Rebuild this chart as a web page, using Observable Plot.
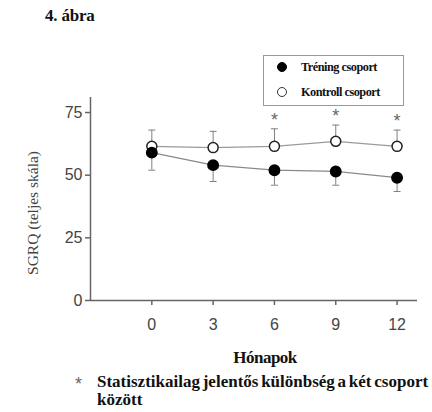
<!DOCTYPE html>
<html>
<head>
<meta charset="utf-8">
<script src="https://cdn.jsdelivr.net/npm/d3@7"></script>
<script src="https://cdn.jsdelivr.net/npm/@observablehq/plot@0.6"></script>
<style>
  html, body { margin: 0; padding: 0; background: #fff; }
  #wrap { position: relative; width: 432px; height: 412px; overflow: hidden; }
  #wrap svg { position: absolute; left: 0; top: 0; }
  .t { position: absolute; white-space: nowrap; font-family: "Liberation Serif", "Times New Roman", "DejaVu Serif", serif; color: #111; }
  .bold { font-weight: bold; }
</style>
</head>
<body>
<div id="wrap"></div>
<script>
// ---- data ----
const months = [0, 3, 6, 9, 12];
const trainingMean = [59, 54, 52, 51.5, 49];
const trainingLower = [52, 47.5, 46, 46, 43.5];
const controlMean = [61.5, 61, 61.5, 63.5, 61.5];
const controlUpper = [68, 67.5, 68.5, 70, 68];
const significant = [false, false, true, true, true];
const yTicks = [0, 25, 50, 75];
const xDomain = [-3, 13];
const yDomain = [0, 81];

const titleText = "4. ábra";
const yLabel = "SGRQ (teljes skála)";
const xLabel = "Hónapok";
const legendLabels = ["Tréning csoport", "Kontroll csoport"];
const noteStar = "*";
const noteLines = ["Statisztikailag jelentős különbség a két csoport", "között"];

// ---- build rows ----
const training = months.map((m, i) => ({month: m, mean: trainingMean[i], lo: trainingLower[i]}));
const control = months.map((m, i) => ({month: m, mean: controlMean[i], hi: controlUpper[i], sig: significant[i]}));

const cap = { draw(ctx) { ctx.moveTo(-3.5, 0); ctx.lineTo(3.5, 0); } };
const barColor = "#808080";

const chart = Plot.plot({
  width: 432,
  height: 412,
  marginLeft: 90,
  marginRight: 15,
  marginTop: 97,
  marginBottom: 112,
  style: { fontFamily: "Liberation Sans, Arial, sans-serif", fontSize: "16px", color: "#444", background: "transparent" },
  x: { domain: xDomain },
  y: { domain: yDomain },
  marks: [
    // axes
    Plot.axisY({ ticks: yTicks, tickSize: 5, tickPadding: 3, label: null, stroke: "#666", strokeWidth: 1.5, fontSize: 16 }),
    Plot.axisX({ ticks: months, tickSize: 5, tickPadding: 13, label: null, stroke: "#666", strokeWidth: 1.5, fontSize: 16 }),
    Plot.ruleX([xDomain[0]], { y1: yDomain[0], y2: yDomain[1], stroke: "#666", strokeWidth: 1.5 }),
    Plot.ruleY([yDomain[0]], { x1: xDomain[0], x2: xDomain[1], stroke: "#666", strokeWidth: 1.5 }),
    // control group error bars (upper)
    Plot.ruleX(control, { x: "month", y1: "mean", y2: "hi", stroke: barColor, strokeWidth: 1 }),
    Plot.dot(control, { x: "month", y: "hi", symbol: cap, stroke: barColor, strokeWidth: 1, fill: "none" }),
    // training group error bars (lower)
    Plot.ruleX(training, { x: "month", y1: "mean", y2: "lo", stroke: barColor, strokeWidth: 1 }),
    Plot.dot(training, { x: "month", y: "lo", symbol: cap, stroke: barColor, strokeWidth: 1, fill: "none" }),
    // lines
    Plot.line(control, { x: "month", y: "mean", stroke: "#9a9a9a", strokeWidth: 1.3 }),
    Plot.line(training, { x: "month", y: "mean", stroke: "#8a8a8a", strokeWidth: 1.3 }),
    // markers
    Plot.dot(control, { x: "month", y: "mean", r: 5, fill: "white", stroke: "#222", strokeWidth: 1.5 }),
    Plot.dot(training, { x: "month", y: "mean", r: 5.2, fill: "#000", stroke: "#000" }),
    // significance asterisks
    Plot.text(control.filter(d => d.sig), { x: "month", y: "hi", text: () => "*", dy: -9, fontSize: 18, fill: "#666", fontFamily: "Liberation Sans, Arial, sans-serif" })
  ]
});
const wrap = document.getElementById("wrap");
wrap.appendChild(chart);

function addText(txt, css, cls) {
  const d = document.createElement("div");
  d.className = "t " + (cls || "");
  d.textContent = txt;
  Object.assign(d.style, css);
  wrap.appendChild(d);
  return d;
}

// title
addText(titleText, { left: "45px", top: "6px", fontSize: "17px", letterSpacing: "-0.2px", lineHeight: "20px" }, "bold");
// y label (rotated)
addText(yLabel, { left: "33px", top: "213px", fontSize: "15.5px", color: "#444", transform: "translate(-50%,-50%) rotate(-90deg)" });
// x label
addText(xLabel, { left: "265px", top: "348px", fontSize: "17px", transform: "translateX(-50%)", letterSpacing: "-0.5px", lineHeight: "20px" }, "bold");

// legend box
const box = document.createElement("div");
Object.assign(box.style, { position: "absolute", left: "263px", top: "55px", width: "139px", height: "49px", border: "1px solid #999", background: "#fff" });
wrap.appendChild(box);
const symStyles = [
  { background: "#000", border: "1px solid #000" },
  { background: "#fff", border: "1.5px solid #333" }
];
legendLabels.forEach((lab, i) => {
  const cy = 67 + i * 25;
  const s = document.createElement("div");
  Object.assign(s.style, { position: "absolute", left: (282 - 5) + "px", top: (cy - 5) + "px", width: "10px", height: "10px", borderRadius: "50%", boxSizing: "border-box" }, symStyles[i]);
  wrap.appendChild(s);
  addText(lab, { left: "301px", top: (cy - 8) + "px", fontSize: "12.3px", letterSpacing: "-0.5px", lineHeight: "16px" }, "bold");
});

// footnote
addText(noteStar, { left: "75px", top: "375px", fontSize: "18px", color: "#666", fontFamily: "Liberation Sans, Arial, sans-serif", lineHeight: "18px" });
addText(noteLines[0], { left: "97px", top: "373px", fontSize: "17px", letterSpacing: "0px", wordSpacing: "-1.5px", lineHeight: "18px" }, "bold");
addText(noteLines[1], { left: "97px", top: "391px", fontSize: "17px", letterSpacing: "0px", lineHeight: "18px" }, "bold");
</script>
</body>
</html>
